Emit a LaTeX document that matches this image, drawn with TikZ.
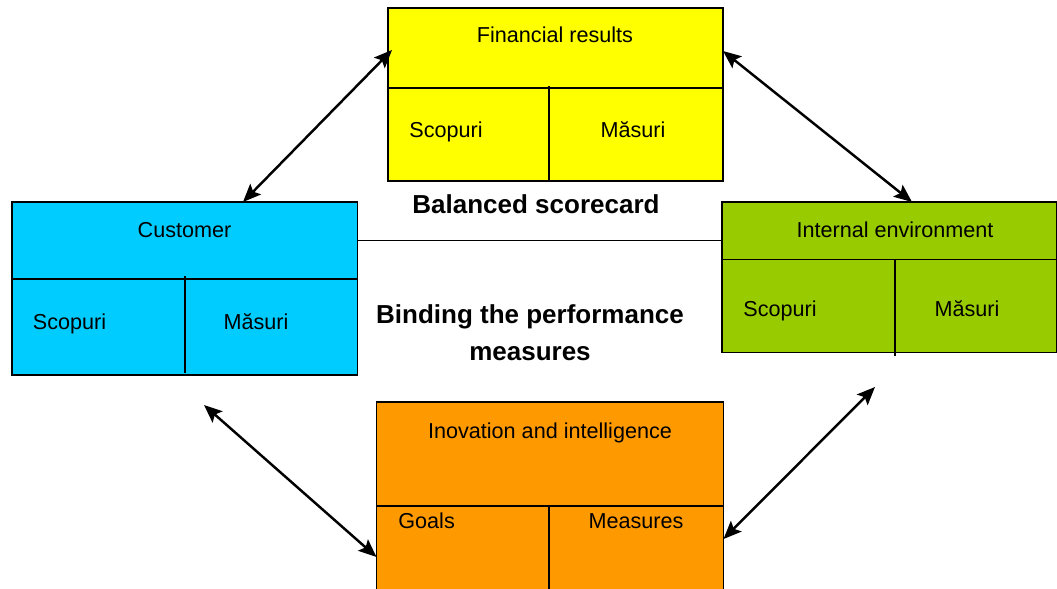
\documentclass[tikz,border=0pt]{standalone}
\usepackage{fontspec}
\setmainfont{Liberation Sans}
\usetikzlibrary{arrows.meta,calc}
\definecolor{finyellow}{HTML}{FFFF00}
\definecolor{custcyan}{HTML}{00CCFF}
\definecolor{envgreen}{HTML}{99CC00}
\definecolor{inovorange}{HTML}{FF9900}
\tikzset{
  card/.style={draw, line width=0.8pt, inner sep=0pt},
  label/.style={anchor=base, inner sep=0pt, font=\fontsize{12.3}{14}\selectfont},
  heading/.style={inner sep=0pt, font=\fontsize{14.8}{21}\selectfont\bfseries, align=center},
  link/.style={{Stealth[length=0.36cm,width=0.3cm,inset=0.07cm]}-{Stealth[length=0.36cm,width=0.3cm,inset=0.07cm]}, line width=1.4pt}
}

\begin{document}
\begin{tikzpicture}[x=0.02cm, y=-0.02cm]
            \clip (0,0) rectangle (1057,588);

            % the four perspectives
            \node [card, fill=finyellow, minimum width=6.7cm, minimum height=3.46cm] (fin) at (555.5,94.5) {};
            \node [card, fill=custcyan, minimum width=6.91cm, minimum height=3.46cm] (cust) at (184.75,288.5) {};
            \node [card, fill=envgreen, minimum width=6.7cm, minimum height=3.01cm] (env) at (889.5,277.25) {};
            \node [card, fill=inovorange, minimum width=6.94cm, minimum height=3.96cm] (inov) at (550,501) {};

            \draw [line width=0.8pt] (388,88) -- (723,88);
            \draw [line width=0.8pt] (549,86) -- (549,181);
            \draw [line width=0.8pt] (12,279) -- (357,279);
            \draw [line width=0.8pt] (185,276) -- (185,373);
            \draw [line width=0.8pt] (722,259.5) -- (1057,259.5);
            \draw [line width=0.8pt] (895,259.5) -- (895,356);
            \draw [line width=0.8pt] (376.5,506) -- (723.5,506);
            \draw [line width=0.8pt] (549,506) -- (549,600);

            \node [label] (finT) at (555,43) {Financial results};
            \node [label, anchor=base west] (finS) at (409,137) {Scopuri};
            \node [label] (finM) at (633,137) {Măsuri};

            \node [label] (custT) at (184.5,237) {Customer};
            \node [label, anchor=base west] (custS) at (32.5,329) {Scopuri};
            \node [label] (custM) at (256,329) {Măsuri};

            \node [label] (envT) at (895,237) {Internal environment};
            \node [label, anchor=base west] (envS) at (743,316) {Scopuri};
            \node [label] (envM) at (967,316) {Măsuri};

            \node [label] (inovT) at (550,438) {Inovation and intelligence};
            \node [label, anchor=base west] (inovG) at (398,528) {Goals};
            \node [label] (inovM) at (636,528) {Measures};

            % centre texts
            \node [heading, anchor=base] (bsc) at (536,213) {Balanced scorecard};
            \node [heading, anchor=base] (bind) at (530,360) {Binding the performance\\measures};
            \draw [line width=0.8pt] (cust.east |- 0,240.5) -- (env.west |- 0,240.5);

            % links between perspectives
            \coordinate (custTop) at (243,202);
            \coordinate (finLeft) at (392,50);
            \coordinate (finRight) at (723,51);
            \coordinate (envTop) at (912,202);
            \coordinate (custLow) at (204,405);
            \coordinate (inovLeft) at (376.5,557);
            \coordinate (inovRight) at (723.5,539);
            \coordinate (envLow) at (875,387);
            \draw [link] (custTop) -- (finLeft);
            \draw [link] (finRight) -- (envTop);
            \draw [link] (custLow) -- (inovLeft);
            \draw [link] (inovRight) -- (envLow);
        \end{tikzpicture}
\end{document}
